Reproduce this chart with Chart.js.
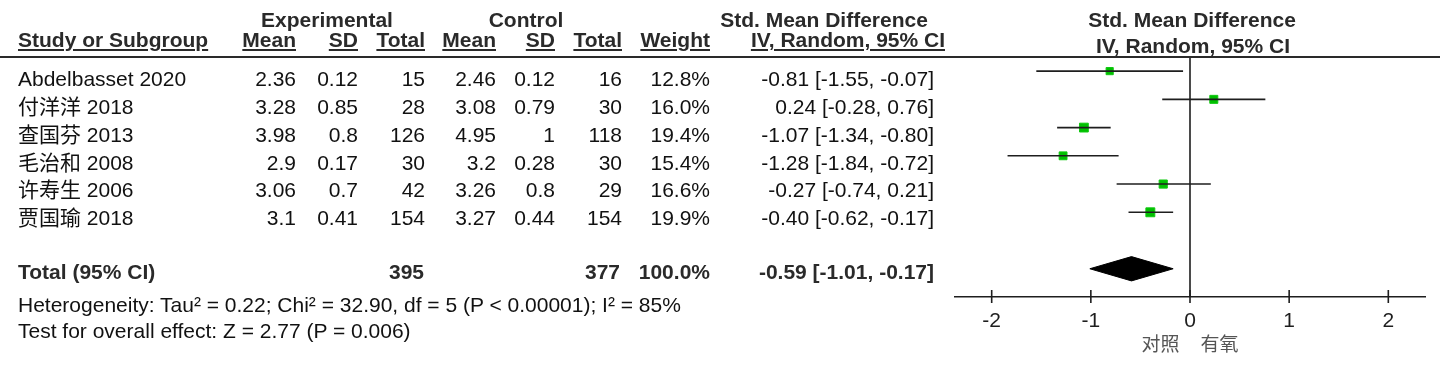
<!DOCTYPE html>
<html lang="zh">
<head>
  <meta charset="UTF-8" />
  <title>Forest plot</title>
  <script src="https://cdn.jsdelivr.net/npm/chart.js"></script>
  <style>
    body {
      margin: 0;
      width: 1440px;
      height: 367px;
      background: #fff;
      overflow: hidden;
      position: relative;
      font-family: "Liberation Sans", Arial, "Noto Sans CJK SC", sans-serif;
      font-size: 21px;
      color: #111;
    }
    #plot {
      position: absolute;
      left: 0;
      top: 0;
    }
    .t {
      position: absolute;
      height: 21px;
      line-height: 21px;
      white-space: nowrap;
    }
    .b { font-weight: bold; color: #2a2a2a; }
    .u { text-decoration: underline; text-decoration-thickness: 1.5px; text-underline-offset: 2px; }
    .rule {
      position: absolute;
      left: 0;
      top: 56px;
      width: 1440px;
      height: 2px;
      background: #2a2a2a;
    }
  </style>
</head>
<body>
  <canvas id="plot" width="1440" height="367"></canvas>
  <div class="rule"></div>
  <div id="table"></div>

  <script>
    // study data
    const studies   = ["Abdelbasset 2020", "付洋洋 2018", "查国芬 2013", "毛治和 2008", "许寿生 2006", "贾国瑜 2018"];
    const expMean   = [2.36, 3.28, 3.98, 2.9, 3.06, 3.1];
    const expSD     = [0.12, 0.85, 0.8, 0.17, 0.7, 0.41];
    const expTotal  = [15, 28, 126, 30, 42, 154];
    const ctrlMean  = [2.46, 3.08, 4.95, 3.2, 3.26, 3.27];
    const ctrlSD    = [0.12, 0.79, 1, 0.28, 0.8, 0.44];
    const ctrlTotal = [16, 30, 118, 30, 29, 154];
    const weights   = [12.8, 16.0, 19.4, 15.4, 16.6, 19.9];
    const smd       = [-0.81, 0.24, -1.07, -1.28, -0.27, -0.40];
    const ciLow     = [-1.55, -0.28, -1.34, -1.84, -0.74, -0.62];
    const ciHigh    = [-0.07, 0.76, -0.80, -0.72, 0.21, -0.17];

    // pooled result
    const pooledExpTotal = 395;
    const pooledCtrlTotal = 377;
    const pooledWeight = 100.0;
    const pooledSmd = -0.59;
    const pooledLow = -1.01;
    const pooledHigh = -0.17;
    const heterogeneity = "Heterogeneity: Tau² = 0.22; Chi² = 32.90, df = 5 (P < 0.00001); I² = 85%";
    const overallTest = "Test for overall effect: Z = 2.77 (P = 0.006)";

    const xTicks = [-2, -1, 0, 1, 2];
    const xMin = -2.37, xMax = 2.37;
    const yMin = -0.5, yMax = 8;
    const totalRow = 7;
    const nullEffect = 0;
    const axisTitle = "对照    有氧";

    // ---- table text (html) ----
    const table = document.getElementById("table");
    function txt(s, x, base, align, cls) {
      const d = document.createElement("div");
      d.className = "t" + (cls ? " " + cls : "");
      d.textContent = s;
      d.style.top = (base - 17.8) + "px";
      if (align === "right") {
        d.style.left = (x - 400) + "px";
        d.style.width = "400px";
        d.style.textAlign = "right";
      } else if (align === "center") {
        d.style.left = (x - 200) + "px";
        d.style.width = "400px";
        d.style.textAlign = "center";
      } else {
        d.style.left = x + "px";
      }
      table.appendChild(d);
    }

    const cols = { em: 296, es: 358, et: 425, cm: 496, cs: 555, ct: 622, w: 710, ci: 934 };

    txt("Experimental", 327, 27, "center", "b");
    txt("Control", 526, 27, "center", "b");
    txt("Std. Mean Difference", 824, 27, "center", "b");
    txt("Std. Mean Difference", 1192, 27, "center", "b");
    txt("Study or Subgroup", 18, 47, "left", "b u");
    txt("Mean", cols.em, 47, "right", "b u");
    txt("SD", cols.es, 47, "right", "b u");
    txt("Total", cols.et, 47, "right", "b u");
    txt("Mean", cols.cm, 47, "right", "b u");
    txt("SD", cols.cs, 47, "right", "b u");
    txt("Total", cols.ct, 47, "right", "b u");
    txt("Weight", cols.w, 47, "right", "b u");
    txt("IV, Random, 95% CI", 945, 47, "right", "b u");
    txt("IV, Random, 95% CI", 1193, 53, "center", "b");

    const fmt = v => v.toFixed(2);
    studies.forEach((name, i) => {
      const base = 86 + i * 27.8;
      txt(name, 18, base, "left");
      txt(String(expMean[i]), cols.em, base, "right");
      txt(String(expSD[i]), cols.es, base, "right");
      txt(String(expTotal[i]), cols.et, base, "right");
      txt(String(ctrlMean[i]), cols.cm, base, "right");
      txt(String(ctrlSD[i]), cols.cs, base, "right");
      txt(String(ctrlTotal[i]), cols.ct, base, "right");
      txt(weights[i].toFixed(1) + "%", cols.w, base, "right");
      txt(fmt(smd[i]) + " [" + fmt(ciLow[i]) + ", " + fmt(ciHigh[i]) + "]", cols.ci, base, "right");
    });

    txt("Total (95% CI)", 18, 279, "left", "b");
    txt(String(pooledExpTotal), 424, 279, "right", "b");
    txt(String(pooledCtrlTotal), 620, 279, "right", "b");
    txt(pooledWeight.toFixed(1) + "%", cols.w, 279, "right", "b");
    txt(fmt(pooledSmd) + " [" + fmt(pooledLow) + ", " + fmt(pooledHigh) + "]", cols.ci, 279, "right", "b");
    txt(heterogeneity, 18, 312, "left");
    txt(overallTest, 18, 338, "left");

    // ---- forest plot (chart.js) ----
    const ciSets = studies.map((s, i) => ({
      type: 'line',
      data: [{ x: ciLow[i], y: i }, { x: ciHigh[i], y: i }],
      borderColor: '#1e1e1e',
      borderWidth: 1.6,
      pointRadius: 0,
      clip: false
    }));

    const dh = 0.43;
    const diamond = {
      type: 'line',
      data: [
        { x: pooledLow, y: totalRow },
        { x: pooledSmd, y: totalRow - dh },
        { x: pooledHigh, y: totalRow },
        { x: pooledSmd, y: totalRow + dh },
        { x: pooledLow, y: totalRow }
      ],
      borderColor: '#000',
      backgroundColor: '#000',
      borderWidth: 1,
      fill: 'shape',
      pointRadius: 0,
      tension: 0
    };

    const zeroLine = {
      type: 'line',
      data: [{ x: nullEffect, y: yMin }, { x: nullEffect, y: yMax }],
      borderColor: '#1e1e1e',
      borderWidth: 1.6,
      pointRadius: 0,
      clip: false
    };

    const squares = {
      type: 'scatter',
      data: smd.map((v, i) => ({ x: v, y: i })),
      pointStyle: 'rect',
      pointRadius: weights.map(w => Math.sqrt(w) * 1.414),
      backgroundColor: '#00c000',
      borderColor: '#10c810',
      borderWidth: 1
    };

    const tickMarks = {
      id: 'tickMarks',
      afterDraw(chart) {
        const sx = chart.scales.x;
        const y0 = chart.chartArea.bottom;
        const ctx = chart.ctx;
        ctx.save();
        ctx.strokeStyle = '#1e1e1e';
        ctx.lineWidth = 1.6;
        xTicks.forEach(t => {
          const px = sx.getPixelForValue(t);
          ctx.beginPath();
          ctx.moveTo(px, y0 - 7);
          ctx.lineTo(px, y0 + 6);
          ctx.stroke();
        });
        ctx.restore();
      }
    };

    new Chart(document.getElementById("plot"), {
      type: 'scatter',
      data: { datasets: [zeroLine, ...ciSets, diamond, squares] },
      options: {
        responsive: false,
        animation: false,
        layout: { padding: { left: 955, right: 15, top: 57, bottom: 0 } },
        plugins: { legend: { display: false }, tooltip: { enabled: false } },
        scales: {
          x: {
            type: 'linear',
            min: xMin,
            max: xMax,
            afterFit: s => { s.height = 70; },
            afterBuildTicks: s => { s.ticks = xTicks.map(v => ({ value: v })); },
            grid: { display: false },
            border: { display: true, color: '#1e1e1e', width: 1.6 },
            ticks: {
              padding: 4,
              color: '#1e1e1e',
              font: { family: 'Liberation Sans', size: 21 }
            },
            title: {
              display: true,
              text: axisTitle,
              color: '#555',
              font: { family: "'Liberation Sans', 'Noto Sans CJK SC'", size: 19 },
              padding: { top: 0, bottom: 10 }
            }
          },
          y: {
            type: 'linear',
            display: false,
            reverse: true,
            min: yMin,
            max: yMax
          }
        }
      },
      plugins: [tickMarks]
    });
  </script>
</body>
</html>
